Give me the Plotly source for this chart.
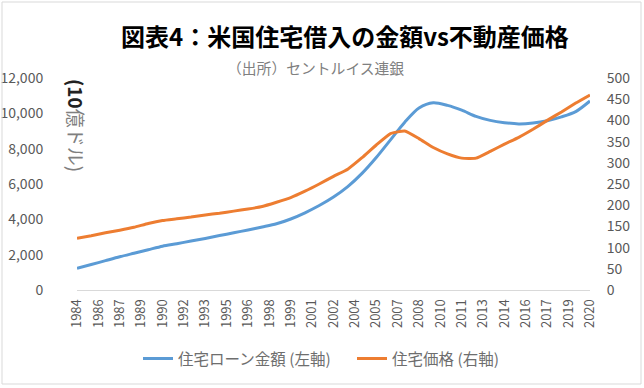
import plotly.graph_objects as go

# ---- data ----
years = list(range(1984, 2021))  # each value read at Q4 of the year
mortgage_debt = [1230, 1440, 1660, 1880, 2080, 2280, 2480, 2620, 2770, 2920,
                 3080, 3240, 3400, 3570, 3750, 4020, 4370, 4780, 5260, 5850,
                 6600, 7500, 8500, 9500, 10300, 10600, 10450, 10180, 9830, 9600,
                 9470, 9400, 9450, 9580, 9800, 10100, 10700]
house_price = [122, 128, 135, 141, 148, 157, 164, 168, 172, 177,
               181, 186, 191, 197, 207, 218, 233, 250, 268, 285,
               312, 342, 369, 375, 357, 336, 321, 311, 311, 327,
               344, 360, 379, 400, 420, 441, 460]
tick_labels = ["1984", "1986", "1987", "1989", "1990", "1992", "1993", "1995",
               "1996", "1998", "1999", "2001", "2002", "2004", "2005", "2007",
               "2008", "2010", "2011", "2013", "2014", "2016", "2017", "2019",
               "2020"]
left_ticks = [0, 2000, 4000, 6000, 8000, 10000, 12000]
right_ticks = [0, 50, 100, 150, 200, 250, 300, 350, 400, 450, 500]

# quarterly time axis: values sit at Q4 of each year; a label every 6 quarters
x_vals = [y + 0.75 for y in years]
tick_pos = [1984.75 + 1.5 * i for i in range(len(tick_labels))]

FONT = "Noto Sans CJK JP"
GREY = "#595959"
CLEAR = "rgba(0,0,0,0)"

fig = go.Figure()
fig.add_trace(go.Scatter(
    x=x_vals, y=mortgage_debt, name="住宅ローン金額 (左軸)", mode="lines",
    line=dict(color="#5b9bd5", width=3, shape="spline", smoothing=0.8),
    yaxis="y"))
fig.add_trace(go.Scatter(
    x=x_vals, y=house_price, name="住宅価格 (右軸)", mode="lines",
    line=dict(color="#ed7d31", width=3, shape="spline", smoothing=0.4),
    yaxis="y2"))

fig.update_layout(
    width=644, height=388,
    margin=dict(l=77, r=54, t=78, b=98, autoexpand=False),
    paper_bgcolor="white", plot_bgcolor="white",
    font=dict(family=FONT, color=GREY, size=13),
    showlegend=True,
    legend=dict(orientation="h", x=(138 - 77) / 513, xanchor="left",
                y=-0.325, yanchor="middle",
                font=dict(size=15.5, color="#6e6e6e"),
                entrywidth=169, entrywidthmode="pixels"),
    xaxis=dict(range=[1984.75, 2020.75], tickmode="array", tickvals=tick_pos,
               ticktext=tick_labels, tickangle=-90, showgrid=False,
               zeroline=False, showline=True, linecolor="#d9d9d9",
               linewidth=1, ticks="outside", ticklen=3, tickcolor=CLEAR,
               automargin=False, tickfont=dict(size=13, color=GREY)),
    yaxis=dict(range=[0, 12000], tickmode="array", tickvals=left_ticks,
               tickformat=",d", showgrid=False, zeroline=False,
               showline=False, ticks="outside", ticklen=30, tickcolor=CLEAR,
               automargin=False, tickfont=dict(size=14, color=GREY)),
    yaxis2=dict(range=[0, 500], tickmode="array", tickvals=right_ticks,
                overlaying="y", side="right", showgrid=False, zeroline=False,
                showline=False, ticks="outside", ticklen=13, tickcolor=CLEAR,
                automargin=False, tickfont=dict(size=14, color=GREY)),
)

fig.add_annotation(text="<b>図表4：米国住宅借入の金額vs不動産価格</b>",
                   xref="paper", yref="paper", x=0.5224, y=(290 - 36) / 212,
                   xanchor="center", yanchor="middle", showarrow=False,
                   font=dict(family=FONT, size=24, color="#000000"))
fig.add_annotation(text="（出所）セントルイス連銀",
                   xref="paper", yref="paper", x=0.465, y=(290 - 68) / 212,
                   xanchor="center", yanchor="middle", showarrow=False,
                   font=dict(family=FONT, size=14.8, color="#808080"))
fig.add_annotation(text="<span style='color:#222222'><b>(10</b></span>億ドル)",
                   textangle=90,
                   xref="paper", yref="paper", x=-0.002, y=(290 - 126) / 212,
                   xanchor="center", yanchor="middle", showarrow=False,
                   font=dict(family=FONT, size=19, color="#7f7f7f"))

# chart-area border
fig.add_shape(type="rect", xref="paper", yref="paper",
              x0=(2 - 77) / 513, x1=(641 - 77) / 513,
              y0=(290 - 384) / 212, y1=(290 - 2) / 212,
              line=dict(color="#d9d9d9", width=1), layer="above")

fig.write_html("out.html", config={"displayModeBar": False},
               post_script="document.body.style.margin='0';")
